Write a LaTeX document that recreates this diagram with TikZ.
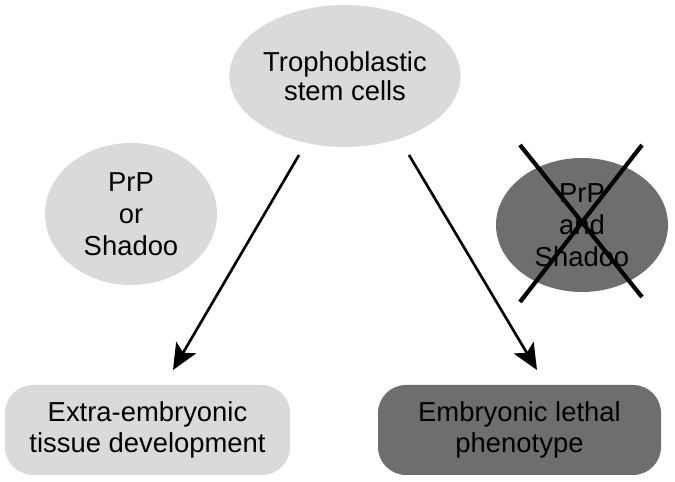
\documentclass[tikz,border=0pt]{standalone}
\usepackage{fontspec}
\setmainfont{Liberation Sans}
\usepackage{tikz}
\usetikzlibrary{arrows.meta,shapes.geometric}

\definecolor{lightgrey}{HTML}{D9DADB}
\definecolor{darkgrey}{HTML}{6D6E70}

\begin{document}
\begin{tikzpicture}[
    txt/.style = {font = {\fontsize{15.6}{17.8}\selectfont}, black, align=center},
    cell/.style = {txt, ellipse, inner sep=0pt},
    result/.style = {txt, rectangle, rounded corners=0.56cm, minimum width=5.7cm, minimum height=1.8cm},
    pathway/.style = {-{Stealth[length=0.52cm, width=0.46cm, inset=0.12cm]}, line width=1.5pt},
    cross/.style = {line width=2.4pt, black}
    ]
        \useasboundingbox (0,0) rectangle (13.5,9.64);

        \node[cell, fill=lightgrey, minimum width=4.24cm, minimum height=2.84cm, font = {\fontsize{15.6}{16.8}\selectfont}] (stem) at (6.9, 8.12) {Trophoblastic\\stem cells};
        \node[cell, fill=lightgrey, minimum width=3.44cm, minimum height=2.84cm, font = {\fontsize{15.6}{18.2}\selectfont}] (either) at (2.62, 5.36) {PrP\\or\\Shadoo};
        \node[cell, fill=darkgrey, minimum width=3.44cm, minimum height=2.68cm, font = {\fontsize{15.6}{18.2}\selectfont}] (both) at (11.64, 5.14) {PrP\\and\\Shadoo};

        \node[result, fill=lightgrey] (extra) at (2.95, 1.04) {Extra-embryonic\\tissue development};
        \node[result, fill=darkgrey, minimum width=5.66cm] (lethal) at (10.39, 1.04) {Embryonic lethal\\phenotype};

        \coordinate (leftstart) at (5.98, 6.54);
        \coordinate (leftend) at (3.46, 2.24);
        \coordinate (rightstart) at (8.18, 6.54);
        \coordinate (rightend) at (10.74, 2.24);

        \draw [pathway] (leftstart) -- (leftend);
        \draw [pathway] (rightstart) -- (rightend);

        % cross over the double knockout
        \coordinate (xa) at (10.4, 6.74);
        \coordinate (xb) at (12.84, 3.7);
        \coordinate (xc) at (12.84, 6.74);
        \coordinate (xd) at (10.4, 3.6);
        \draw [cross] (xa) -- (xb);
        \draw [cross] (xc) -- (xd);
    \end{tikzpicture}
\end{document}
